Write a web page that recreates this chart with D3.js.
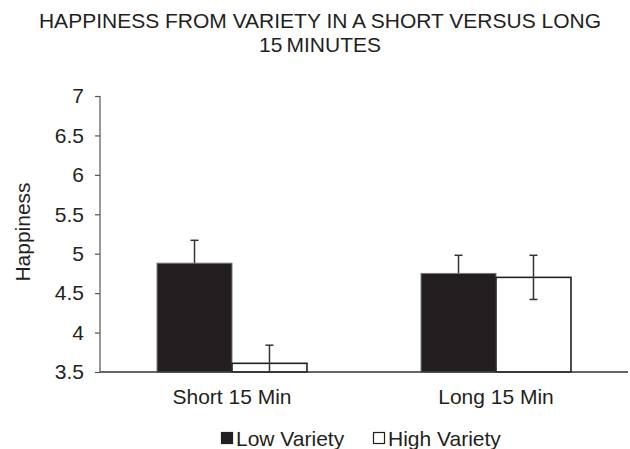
<!DOCTYPE html>
<html>
<head>
<meta charset="utf-8">
<script src="https://cdn.jsdelivr.net/npm/d3@7"></script>
<style>
  html, body { margin: 0; padding: 0; background: #fff; }
  svg { display: block; font-family: "Liberation Sans", Arial, Helvetica, sans-serif; }
</style>
</head>
<body>
<svg id="chart" width="630" height="449"></svg>
<script>
const titleLines = ["HAPPINESS FROM VARIETY IN A SHORT VERSUS LONG", "15\u2009MINUTES"];
const categories = ["Short 15 Min", "Long 15 Min"];
const seriesNames = ["Low Variety", "High Variety"];
const lowVariety = [4.88, 4.75];
const highVariety = [3.61, 4.70];
const lowErr = [0.29, 0.23];
const highErr = [0.23, 0.28];
const yTicks = [3.5, 4, 4.5, 5, 5.5, 6, 6.5, 7];
const yLabel = "Happiness";

const svg = d3.select("#chart");
const dark = "#231f20";
const fs = 21;

const x0 = d3.scaleBand().domain(categories).range([100, 628]).paddingInner(0.432).paddingOuter(0.216);
const x1 = d3.scaleBand().domain(seriesNames).range([0, x0.bandwidth()]);
const y = d3.scaleLinear().domain([3.5, 7]).range([372, 96]);

// title
svg.append("g").selectAll("text").data(titleLines).join("text")
  .attr("x", 320).attr("y", (d, i) => 28 + i * 24)
  .attr("text-anchor", "middle").attr("font-size", fs).attr("fill", dark)
  .text(d => d);

// y axis
const yAxis = svg.append("g").attr("transform", "translate(100,0)")
  .call(d3.axisLeft(y).tickValues(yTicks).tickSize(5).tickPadding(11).tickFormat(d3.format("~g")));
yAxis.select(".domain").attr("stroke", "#555").attr("stroke-width", 1.2).attr("d", "M0,96V372");
yAxis.selectAll(".tick line").attr("stroke", "#555").attr("stroke-width", 1.2);
yAxis.selectAll(".tick text").attr("font-size", fs).attr("fill", dark)
  .attr("font-family", "Liberation Sans, Arial, sans-serif");

// y label
svg.append("text").attr("transform", "translate(30,232) rotate(-90)")
  .attr("text-anchor", "middle").attr("font-size", fs).attr("fill", dark).text(yLabel);

const series = [
  { name: seriesNames[0], vals: lowVariety, errs: lowErr, fill: dark, stroke: "#777", sw: 1, errOnTop: false },
  { name: seriesNames[1], vals: highVariety, errs: highErr, fill: "#fff", stroke: dark, sw: 1.6, errOnTop: true }
];

const plot = svg.append("g");
const cx = (s, c) => x0(c) + x1(s.name) + x1.bandwidth() / 2;
const clampY = v => y(Math.max(3.5, Math.min(7, v)));

function drawErr(g, s) {
  const d = categories.map((c, i) => ({ c, v: s.vals[i], e: s.errs[i] }));
  const eg = g.append("g").selectAll("g").data(d).join("g");
  eg.append("line")
    .attr("x1", d => cx(s, d.c)).attr("x2", d => cx(s, d.c))
    .attr("y1", d => clampY(d.v + d.e)).attr("y2", d => clampY(d.v - d.e))
    .attr("stroke", "#333").attr("stroke-width", 1.5);
  eg.append("line")
    .attr("x1", d => cx(s, d.c) - 4).attr("x2", d => cx(s, d.c) + 4)
    .attr("y1", d => y(d.v + d.e)).attr("y2", d => y(d.v + d.e))
    .attr("stroke", "#333").attr("stroke-width", 1.5);
  eg.filter(d => d.v - d.e >= 3.5).append("line")
    .attr("x1", d => cx(s, d.c) - 4).attr("x2", d => cx(s, d.c) + 4)
    .attr("y1", d => y(d.v - d.e)).attr("y2", d => y(d.v - d.e))
    .attr("stroke", "#333").attr("stroke-width", 1.5);
}

series.forEach(s => {
  if (!s.errOnTop) drawErr(plot, s);
  plot.append("g").selectAll("rect").data(categories.map((c, i) => ({ c, v: s.vals[i] }))).join("rect")
    .attr("x", d => x0(d.c) + x1(s.name)).attr("width", x1.bandwidth())
    .attr("y", d => y(d.v)).attr("height", d => y(3.5) - y(d.v))
    .attr("fill", s.fill).attr("stroke", s.stroke).attr("stroke-width", s.sw);
  if (s.errOnTop) drawErr(plot, s);
});

// x axis
const xAxis = svg.append("g").attr("transform", "translate(0,372)")
  .call(d3.axisBottom(x0).tickSize(0).tickPadding(17));
xAxis.select(".domain").attr("stroke", "#333").attr("stroke-width", 1.5).attr("d", "M100,0H628");
xAxis.selectAll(".tick text").attr("font-size", fs).attr("fill", dark)
  .attr("font-family", "Liberation Sans, Arial, sans-serif");

// legend
const legendX = [221, 373];
const lg = svg.append("g").selectAll("g").data(seriesNames).join("g")
  .attr("transform", (d, i) => `translate(${legendX[i]},432)`);
lg.append("rect").attr("x", 0.5).attr("y", 0.5).attr("width", 11).attr("height", 11)
  .attr("fill", (d, i) => i === 0 ? dark : "#fff").attr("stroke", dark).attr("stroke-width", 1.2);
lg.append("text").attr("x", 15).attr("y", 13.5).attr("font-size", fs).attr("fill", dark).text(d => d);
</script>
</body>
</html>
